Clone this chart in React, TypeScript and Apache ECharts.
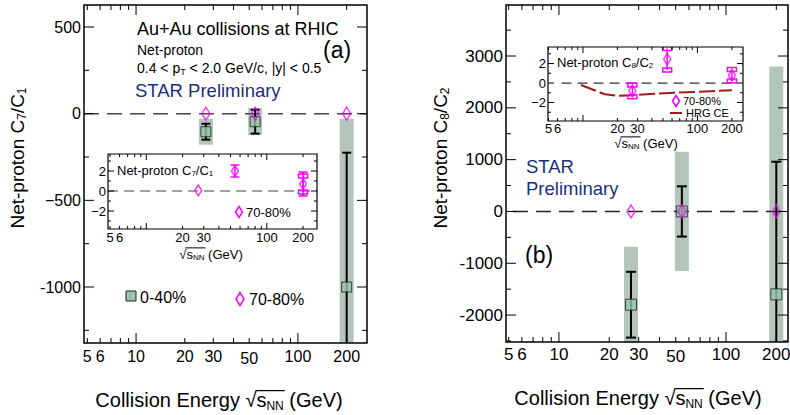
import React, { useEffect, useRef } from 'react';
import * as echarts from 'echarts';

// ---------------- data ----------------
const energies = [27, 54.4, 200];

// Panel (a): net-proton C7/C1, 0-40%
const c7Central = [-104, -46, -1000];
const c7Stat = [46, 69, 775];
const c7Sys = [75, 78, 971];
// 70-80% shown on main scale
const c7Periph = [0, 0, 0];
// inset (a): 70-80%
const c7InsetPeriph = [0.05, 2.0, 0.7];
const c7InsetStat = [0, 0.6, 1.2];
const c7InsetSys = [0, 0, 0.8];

// Panel (b): net-proton C8/C2, 0-40%
const c8Central = [-1800, 0, -1600];
const c8Stat = [635, 485, 2560];
const c8Sys = [1120, 1150, 4400];
const c8Periph = [0, 0, 0];
// inset (b): 70-80%
const c8InsetPeriph = [-0.8, 2.45, 0.8];
const c8InsetErr = [0.6, 1.1, 0.6];
// HRG CE
const hrgEnergies = [9.6, 15.5, 20, 27, 39, 62.4, 200];
const hrgValues = [-0.2, -1.15, -1.3, -1.25, -1.12, -1.0, -0.75];

// ticks
const xMajorTicks = [10, 100];
const xMinorTicks = [5, 6, 7, 8, 9, 20, 30, 40, 50, 60, 70, 80, 90, 200];
const xLabelsMain = [5, 6, 10, 20, 30, 50, 100, 200];
const xLabelsMainText = ['5', '6', '10', '20', '30', '50', '100', '200'];
const xLabelsInset = [5, 6, 20, 30, 100, 200];
const xLabelsInsetText = ['5', '6', '20', '30', '100', '200'];

const yMajorA = [500, 0, -500, -1000];
const yMinorA = [250, -250, -750, -1250];
const yLabelsAText = ['500', '0', '\u2212500', '-1000'];

const yMajorB = [3000, 2000, 1000, 0, -1000, -2000];
const yMinorB = [3500, 2500, 1500, 500, -500, -1500, -2500];
const yLabelsBText = ['3000', '2000', '1000', '0', '-1000', '-2000'];

const yMajorInset = [2, 0, -2];
const yMinorInset = [3, 1, -1, -3];
const yLabelsInsetText = ['2', '0', '\u22122'];

// ---------------- styles ----------------
const FONT = '"Liberation Sans", Arial, Helvetica, sans-serif';
const SYS_COLOR = '#b3c6b9';
const SQ_COLOR = '#98c4ab';
const MAGENTA = '#ff00ff';
const BLUE = '#1b2f7c';
const HRG_COLOR = '#a3191b';

function measure(text: string, size: number) {
  const ctx = document.createElement('canvas').getContext('2d')!;
  ctx.font = `${size}px ${FONT}`;
  return ctx.measureText(text).width;
}

function axisSeries(idx: number, cfg: any) {
  return {
    type: 'custom',
    xAxisIndex: idx,
    yAxisIndex: idx,
    clip: false,
    silent: true,
    z: 20,
    data: [[cfg.xRef, cfg.yRef]],
    renderItem: (params: any, api: any) => {
      const cs = params.coordSys;
      const x0 = cs.x, y0 = cs.y, x1 = cs.x + cs.width, y1 = cs.y + cs.height;
      const ch: any[] = [];
      const ln = (a: number, b: number, c: number, d: number) =>
        ch.push({ type: 'line', shape: { x1: a, y1: b, x2: c, y2: d }, style: { stroke: '#000', lineWidth: cfg.tickWidth } });
      const xt = (vals: number[], len: number) => vals.forEach((v) => {
        const px = api.coord([v, cfg.yRef])[0];
        ln(px, y1, px, y1 - len);
        ln(px, y0, px, y0 + len);
      });
      const yt = (vals: number[], len: number) => vals.forEach((v) => {
        const py = api.coord([cfg.xRef, v])[1];
        ln(x0, py, x0 + len, py);
        ln(x1, py, x1 - len, py);
      });
      xt(xMajorTicks, cfg.majLen);
      xt(xMinorTicks, cfg.minLen);
      yt(cfg.yMajor, cfg.majLen);
      yt(cfg.yMinor, cfg.minLen);
      cfg.xLabels.forEach((v: number, i: number) => {
        const px = api.coord([v, cfg.yRef])[0];
        ch.push({
          type: 'text', x: px, y: y1 + cfg.xGap + (v === 50 ? cfg.shift50 : 0),
          style: { text: cfg.xTexts[i], fontSize: cfg.fontSize, fontFamily: FONT, fill: '#000', textAlign: 'center', textVerticalAlign: 'middle' },
        });
      });
      cfg.yMajor.forEach((v: number, i: number) => {
        const py = api.coord([cfg.xRef, v])[1];
        ch.push({
          type: 'text', x: x0 - cfg.yGap, y: py,
          style: { text: cfg.yTexts[i], fontSize: cfg.fontSize, fontFamily: FONT, fill: '#000', textAlign: 'right', textVerticalAlign: 'middle' },
        });
      });
      ch.push({ type: 'rect', shape: { x: x0, y: y0, width: cs.width, height: cs.height }, style: { fill: 'none', stroke: '#000', lineWidth: cfg.frameWidth } });
      return { type: 'group', children: ch };
    },
  };
}

function sysSeries(idx: number, central: number[], sys: number[], w: number) {
  return {
    type: 'custom', xAxisIndex: idx, yAxisIndex: idx, clip: true, silent: true, z: 2,
    data: energies.map((e, i) => [e, central[i], sys[i]]),
    renderItem: (params: any, api: any) => {
      const x = api.value(0), y = api.value(1), s = api.value(2);
      const px = api.coord([x, y])[0];
      const top = api.coord([x, y + s])[1];
      const bot = api.coord([x, y - s])[1];
      return { type: 'rect', shape: { x: px - w / 2, y: top, width: w, height: bot - top }, style: { fill: SYS_COLOR } };
    },
  };
}

function errSeries(idx: number, central: number[], err: number[], color: string, cap: number, lw: number) {
  return {
    type: 'custom', xAxisIndex: idx, yAxisIndex: idx, clip: true, silent: true, z: 3,
    data: energies.map((e, i) => [e, central[i], err[i]]),
    renderItem: (params: any, api: any) => {
      const x = api.value(0), y = api.value(1), s = api.value(2);
      if (!s) return { type: 'group', children: [] };
      const px = api.coord([x, y])[0];
      const top = api.coord([x, y + s])[1];
      const bot = api.coord([x, y - s])[1];
      const st = { stroke: color, lineWidth: lw };
      return {
        type: 'group',
        children: [
          { type: 'line', shape: { x1: px, y1: top, x2: px, y2: bot }, style: st },
          { type: 'line', shape: { x1: px - cap / 2, y1: top, x2: px + cap / 2, y2: top }, style: st },
          { type: 'line', shape: { x1: px - cap / 2, y1: bot, x2: px + cap / 2, y2: bot }, style: st },
        ],
      };
    },
  };
}

function bracketSeries(idx: number, central: number[], err: number[]) {
  return {
    type: 'custom', xAxisIndex: idx, yAxisIndex: idx, clip: true, silent: true, z: 3,
    data: energies.map((e, i) => [e, central[i], err[i]]),
    renderItem: (params: any, api: any) => {
      const x = api.value(0), y = api.value(1), s = api.value(2);
      if (!s) return { type: 'group', children: [] };
      const px = api.coord([x, y])[0];
      const top = api.coord([x, y + s])[1];
      const bot = api.coord([x, y - s])[1];
      const st = { stroke: MAGENTA, lineWidth: 1.5, fill: 'none' };
      return {
        type: 'group',
        children: [
          { type: 'line', shape: { x1: px, y1: top, x2: px, y2: bot }, style: st },
          { type: 'rect', shape: { x: px - 4.5, y: top - 2, width: 9, height: 4 }, style: st },
          { type: 'rect', shape: { x: px - 4.5, y: bot - 2, width: 9, height: 4 }, style: st },
        ],
      };
    },
  };
}

function scatterSeries(idx: number, values: number[], kind: 'sq' | 'dia', size: any) {
  return {
    type: 'scatter', xAxisIndex: idx, yAxisIndex: idx, silent: true, z: kind === 'sq' ? 4 : 5,
    symbol: kind === 'sq' ? 'rect' : 'diamond',
    symbolSize: size,
    data: energies.map((e, i) => [e, values[i]]),
    itemStyle: kind === 'sq'
      ? { color: SQ_COLOR, borderColor: '#222', borderWidth: 1 }
      : { color: 'rgba(255,255,255,0)', borderColor: MAGENTA, borderWidth: 1.5 },
  };
}

function zeroLine(idx: number, x0: number, x1: number, dash: number[], color: string, lw: number) {
  return {
    type: 'line', xAxisIndex: idx, yAxisIndex: idx, silent: true, z: 2.5, symbol: 'none',
    data: [[x0, 0], [x1, 0]],
    lineStyle: { color, width: lw, type: dash },
  };
}

function sqrtTitle(cx: number, cy: number, size: number, prefix: string) {
  const subSize = Math.round(size * 0.62);
  const segs = [
    { t: prefix, s: size, dy: 0 },
    { t: '\u221A', s: size, dy: 0 },
    { t: 's', s: size, dy: 0 },
    { t: 'NN', s: subSize, dy: size * 0.3 },
    { t: ' (GeV)', s: size, dy: 0 },
  ];
  let x = 0;
  let olStart = 0;
  let olEnd = 0;
  const children: any[] = [];
  segs.forEach((g, i) => {
    const w = g.t ? measure(g.t, g.s) : 0;
    if (g.t) {
      children.push({
        type: 'text', x, y: g.dy,
        style: { text: g.t, fontSize: g.s, fontFamily: FONT, fill: '#000', textAlign: 'left', textVerticalAlign: 'middle' },
      });
    }
    if (i === 2) olStart = x;
    if (i === 3) olEnd = x + w;
    x += w;
  });
  children.push({
    type: 'line',
    shape: { x1: olStart - 1, y1: -size * 0.47, x2: olEnd + 1, y2: -size * 0.47 },
    style: { stroke: '#000', lineWidth: Math.max(1, size / 16) },
  });
  return { type: 'group', x: cx - x / 2, y: cy, children };
}

function txt(x: number, y: number, text: string, size: number, extra: any = {}) {
  return {
    type: 'text', x, y, z: 30,
    style: {
      text, fontSize: size, fontFamily: FONT, fill: '#000', textAlign: 'left', textVerticalAlign: 'middle',
      rich: { sub: { fontSize: Math.round(size * 0.62), fontFamily: FONT, padding: [Math.round(size * 0.5), 0, 0, 0] } },
      ...extra,
    },
  };
}

function diamond(x: number, y: number, w: number, h: number) {
  return {
    type: 'polygon', x, y, z: 30,
    shape: { points: [[0, -h / 2], [w / 2, 0], [0, h / 2], [-w / 2, 0]] },
    style: { fill: 'none', stroke: MAGENTA, lineWidth: 1.5 },
  };
}

function buildOption() {
  const mainA = { xRef: 20, yRef: 0, yMajor: yMajorA, yMinor: yMinorA, yTexts: yLabelsAText, xLabels: xLabelsMain, xTexts: xLabelsMainText, majLen: 10, minLen: 5, fontSize: 16, xGap: 13, yGap: 3, shift50: 2.5, tickWidth: 1, frameWidth: 1.5 };
  const mainB = { ...mainA, yMajor: yMajorB, yMinor: yMinorB, yTexts: yLabelsBText, fontSize: 17, xGap: 12 };
  const insetA = { xRef: 20, yRef: 0, yMajor: yMajorInset, yMinor: yMinorInset, yTexts: yLabelsInsetText, xLabels: xLabelsInset, xTexts: xLabelsInsetText, majLen: 6, minLen: 3, fontSize: 13, xGap: 8, yGap: 2, shift50: 0, tickWidth: 1, frameWidth: 1.2 };
  const insetB = { ...insetA, xGap: 7 };

  return {
    animation: false,
    backgroundColor: '#fff',
    grid: [
      { left: 84, top: 5, width: 283, height: 338, show: false },
      { left: 506, top: 5, width: 282, height: 337, show: false },
      { left: 108, top: 154, width: 209, height: 75, show: true, backgroundColor: '#fff', borderWidth: 0 },
      { left: 548, top: 47, width: 195, height: 74, show: true, backgroundColor: '#fff', borderWidth: 0 },
    ],
    xAxis: [
      { type: 'log', logBase: 10, gridIndex: 0, min: 4.77, max: 267, show: false },
      { type: 'log', logBase: 10, gridIndex: 1, min: 4.82, max: 235, show: false },
      { type: 'log', logBase: 10, gridIndex: 2, min: 4.81, max: 261, show: false },
      { type: 'log', logBase: 10, gridIndex: 3, min: 4.95, max: 250, show: false },
    ],
    yAxis: [
      { type: 'value', gridIndex: 0, min: -1323, max: 627, show: false },
      { type: 'value', gridIndex: 1, min: -2520, max: 3985, show: false },
      { type: 'value', gridIndex: 2, min: -3.8, max: 3.7, show: false },
      { type: 'value', gridIndex: 3, min: -3.9, max: 3.7, show: false },
    ],
    series: [
      // panel (a)
      sysSeries(0, c7Central, c7Sys, 14),
      zeroLine(0, 4.77, 267, [15, 8], '#444', 1.4),
      errSeries(0, c7Central, c7Stat, '#000', 9, 2),
      scatterSeries(0, c7Central, 'sq', 10),
      scatterSeries(0, c7Periph, 'dia', [8, 13]),
      axisSeries(0, mainA),
      // panel (b)
      sysSeries(1, c8Central, c8Sys, 14),
      zeroLine(1, 5.3, 235, [15, 8], '#222', 1.4),
      errSeries(1, c8Central, c8Stat, '#000', 10, 2),
      scatterSeries(1, c8Central, 'sq', 11),
      scatterSeries(1, c8Periph, 'dia', [8, 13]),
      axisSeries(1, mainB),
      // inset (a)
      zeroLine(2, 4.81, 261, [10, 6], '#444', 1.2),
      errSeries(2, c7InsetPeriph, c7InsetStat, MAGENTA, 9, 1.5),
      bracketSeries(2, c7InsetPeriph, c7InsetSys),
      scatterSeries(2, c7InsetPeriph, 'dia', [7, 11]),
      axisSeries(2, insetA),
      // inset (b)
      zeroLine(3, 6.5, 205, [10, 6], '#333', 1.2),
      {
        type: 'line', xAxisIndex: 3, yAxisIndex: 3, silent: true, symbol: 'none', z: 2.6,
        data: hrgEnergies.map((e, i) => [e, hrgValues[i]]),
        lineStyle: { color: HRG_COLOR, width: 2, type: [16, 4] },
      },
      bracketSeries(3, c8InsetPeriph, c8InsetErr),
      scatterSeries(3, c8InsetPeriph, 'dia', [7, 12]),
      axisSeries(3, insetB),
    ],
    graphic: [
      // panel (a) texts
      txt(137, 29, 'Au+Au collisions at RHIC', 18),
      txt(137, 50, 'Net-proton', 14),
      txt(137, 68, '0.4 < p{sub|T} < 2.0 GeV/c, |y| < 0.5', 14),
      txt(135, 90, 'STAR Preliminary', 18.5, { fill: BLUE }),
      txt(323, 50, '(a)', 23),
      {
        ...txt(17, 158, 'Net-proton C{sub|7}/C{sub|1}', 19, { textAlign: 'center' }),
        rotation: Math.PI / 2,
      },
      sqrtTitle(219, 400, 20, 'Collision Energy '),
      // legend (a)
      { type: 'rect', z: 30, shape: { x: 126, y: 291, width: 10, height: 10 }, style: { fill: SQ_COLOR, stroke: '#222', lineWidth: 1 } },
      txt(140, 297, '0-40%', 16),
      diamond(240, 299, 8, 13),
      txt(249, 299, '70-80%', 16),
      // inset (a)
      txt(117, 170, 'Net-proton C{sub|7}/C{sub|1}', 13),
      diamond(239, 212, 7, 11),
      txt(246, 212, '70-80%', 13),
      sqrtTitle(211, 254, 13, ''),
      // panel (b)
      txt(526, 166, 'STAR', 18.5, { fill: BLUE }),
      txt(526, 188, 'Preliminary', 18.5, { fill: BLUE }),
      txt(525, 255, '(b)', 23),
      {
        ...txt(440, 158, 'Net-proton C{sub|8}/C{sub|2}', 19, { textAlign: 'center' }),
        rotation: Math.PI / 2,
      },
      sqrtTitle(638, 398, 20, 'Collision Energy '),
      // inset (b)
      txt(557, 62, 'Net-proton C{sub|8}/C{sub|2}', 13),
      diamond(676, 101, 7, 11),
      txt(683, 101, '70-80%', 11),
      { type: 'line', z: 30, shape: { x1: 670, y1: 113, x2: 682, y2: 113 }, style: { stroke: HRG_COLOR, lineWidth: 2 } },
      txt(686, 113, 'HRG CE', 11),
      sqrtTitle(646, 143, 13, ''),
    ],
  };
}

export default function App() {
  const ref = useRef<HTMLDivElement>(null);
  useEffect(() => {
    const chart = echarts.init(ref.current!, null, { renderer: 'svg' });
    chart.setOption(buildOption() as any);
    return () => chart.dispose();
  }, []);
  return <div ref={ref} style={{ position: 'fixed', left: 0, top: 0, width: 790, height: 415 }} />;
}
